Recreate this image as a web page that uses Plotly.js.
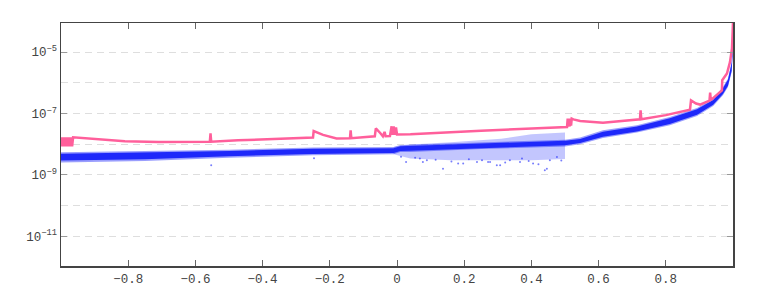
<!DOCTYPE html>
<html>
<head>
<meta charset="utf-8">
<script src="https://cdn.plot.ly/plotly-3.0.1.min.js"></script>
<style>
  html, body { margin: 0; padding: 0; background: #fff; }
  #chart { width: 763px; height: 300px; }
</style>
</head>
<body>
<div id="chart"></div>
<script>
// upper bound (pink line)
const pinkX = [-1.000, -0.997, -0.994, -0.991, -0.988, -0.985, -0.982, -0.979, -0.976, -0.973, -0.970, -0.967, -0.964,
  -0.93, -0.81, -0.71, -0.557, -0.555, -0.553, -0.473, -0.25, -0.248, -0.22, -0.18, -0.14, -0.138, -0.136,
  -0.066, -0.063, -0.05, -0.042, -0.037, -0.034, -0.021, -0.016, -0.013, -0.010, -0.006, -0.003, 0.0,
  0.04, 0.25, 0.506, 0.508, 0.510, 0.512, 0.514, 0.516, 0.518, 0.520, 0.525, 0.545, 0.613, 0.723, 0.725, 0.727,
  0.80, 0.872, 0.875, 0.89, 0.902, 0.930, 0.932, 0.934, 0.967, 0.968, 0.982, 0.991, 0.997, 1.0];
const pinkY = [1.66e-8, 8.5e-9, 1.66e-8, 8.5e-9, 1.66e-8, 8.5e-9, 1.66e-8, 8.5e-9, 1.66e-8, 8.5e-9, 1.66e-8, 8.5e-9, 1.66e-8,
  1.55e-8, 1.25e-8, 1.17e-8, 1.2e-8, 2.25e-8, 1.2e-8, 1.33e-8, 1.63e-8, 2.67e-8, 2.0e-8, 1.52e-8, 1.55e-8, 2.82e-8, 1.56e-8,
  1.79e-8, 3.27e-8, 2.3e-8, 1.8e-8, 2.5e-8, 1.82e-8, 1.84e-8, 3.8e-8, 2.0e-8, 3.8e-8, 2.0e-8, 3.5e-8, 2.05e-8,
  2.1e-8, 2.75e-8, 3.61e-8, 6.77e-8, 3.7e-8, 6.77e-8, 3.8e-8, 6.77e-8, 4.0e-8, 6.77e-8, 6.4e-8, 5.65e-8, 5.0e-8, 6.43e-8, 1.26e-7, 6.45e-8,
  8.8e-8, 1.33e-7, 2.67e-7, 2.1e-7, 1.94e-7, 2.6e-7, 4.76e-7, 2.7e-7, 5.65e-7, 1.2e-6, 2.0e-6, 4.7e-6, 1.3e-5, 9e-5];

// measured errors (blue band): outer edge and dense core
const bandX = [-1.0, -0.75, -0.5, -0.25, -0.01, 0.01, 0.04, 0.25, 0.5, 0.545, 0.613, 0.714, 0.812, 0.893, 0.941, 0.970, 0.985, 0.996, 1.0];
const bandHi = [5.4e-9, 5.96e-9, 6.6e-9, 7.7e-9, 8.05e-9, 9.4e-9, 9.63e-9, 1.12e-8, 1.4e-8, 1.63e-8, 2.82e-8, 4.09e-8, 7.63e-8, 1.5e-7, 3.03e-7, 7.24e-7, 1.36e-6, 4.72e-6, 3.5e-5];
const bandLo = [2.5e-9, 2.82e-9, 3.63e-9, 4.32e-9, 4.66e-9, 5.5e-9, 5.53e-9, 6.9e-9, 8.3e-9, 9.85e-9, 1.58e-8, 2.37e-8, 4.09e-8, 8.23e-8, 1.74e-7, 3.89e-7, 7.24e-7, 2.23e-6, 1.32e-5];
const coreHi = [4.9e-9, 5.4e-9, 6.0e-9, 7.0e-9, 7.3e-9, 8.6e-9, 8.8e-9, 1.03e-8, 1.28e-8, 1.48e-8, 2.55e-8, 3.75e-8, 6.9e-8, 1.36e-7, 2.75e-7, 6.6e-7, 1.24e-6, 4.4e-6, 3.2e-5];
const coreLo = [2.9e-9, 3.2e-9, 4.0e-9, 4.8e-9, 5.1e-9, 6.0e-9, 6.1e-9, 7.5e-9, 9.1e-9, 1.08e-8, 1.75e-8, 2.6e-8, 4.5e-8, 9.0e-8, 1.9e-7, 4.25e-7, 7.9e-7, 2.45e-6, 1.45e-5];

// scattered cloud between 0 and 0.5
const cloudX = [-0.01, 0.04, 0.16, 0.31, 0.40, 0.50];
const cloudHi = [8.05e-9, 9.63e-9, 1.15e-8, 1.5e-8, 2.1e-8, 2.4e-8];
const cloudLo = [4.66e-9, 3.4e-9, 3.0e-9, 2.9e-9, 3.0e-9, 3.3e-9];

// isolated points
const outX = [0.027, 0.054, 0.077, 0.137, 0.182, 0.238, 0.271, 0.307, 0.336, 0.372, 0.440, 0.476, 0.405, 0.455, 0.068, 0.277,
  -0.553, -0.247, 0.089, 0.197, 0.297, 0.366, 0.446, 0.253, 0.115, 0.162, 0.214, 0.322, 0.392, 0.421, 0.489, 0.012];
const outY = [2.61e-9, 3.63e-9, 2.61e-9, 1.59e-9, 2.32e-9, 2.61e-9, 2.61e-9, 2.04e-9, 2.97e-9, 3.37e-9, 1.40e-9, 3.8e-9, 2.32e-9, 2.97e-9, 3.37e-9, 2.61e-9,
  2.04e-9, 3.45e-9, 2.97e-9, 2.32e-9, 2.04e-9, 2.61e-9, 1.59e-9, 2.97e-9, 3.1e-9, 2.7e-9, 3.2e-9, 2.5e-9, 2.8e-9, 2.2e-9, 2.9e-9, 3.9e-9];

const blue = 'rgb(30,40,250)';
const pink = '#ff5f9b';

const yTickVals = [1e-11, 1e-9, 1e-7, 1e-5];
const yTickText = ['10<sup>−11</sup>', '10<sup>−9</sup>', '10<sup>−7</sup>', '10<sup>−5</sup>'];
const yMinorVals = [1e-10, 1e-8, 1e-6];
const xTickVals = [-0.8, -0.6, -0.4, -0.2, 0, 0.2, 0.4, 0.6, 0.8];

const traces = [
  { x: cloudX, y: cloudLo, type: 'scatter', mode: 'lines', line: { width: 0 }, hoverinfo: 'skip', showlegend: false },
  { x: cloudX, y: cloudHi, type: 'scatter', mode: 'lines', line: { width: 0 }, fill: 'tonexty',
    fillcolor: 'rgba(40,50,250,0.28)', hoverinfo: 'skip', showlegend: false },
  { x: outX, y: outY, type: 'scatter', mode: 'markers', marker: { size: 2, color: blue, opacity: 0.6 }, showlegend: false },
  { x: bandX, y: bandLo, type: 'scatter', mode: 'lines', line: { width: 0 }, showlegend: false },
  { x: bandX, y: bandHi, type: 'scatter', mode: 'lines', line: { width: 0 }, fill: 'tonexty',
    fillcolor: 'rgba(30,40,250,0.45)', showlegend: false },
  { x: bandX, y: coreLo, type: 'scatter', mode: 'lines', line: { width: 0 }, showlegend: false },
  { x: bandX, y: coreHi, type: 'scatter', mode: 'lines', line: { width: 0 }, fill: 'tonexty',
    fillcolor: blue, showlegend: false },
  { x: pinkX, y: pinkY, type: 'scatter', mode: 'lines', line: { width: 2.5, color: pink }, showlegend: false }
];

const tickFont = { family: 'Liberation Mono, DejaVu Sans Mono, monospace', size: 12.5, color: '#444' };

const layout = {
  width: 763,
  height: 300,
  margin: { l: 61, r: 30, t: 23, b: 34 },
  paper_bgcolor: '#fff',
  plot_bgcolor: '#fff',
  showlegend: false,
  xaxis: {
    range: [-1, 1],
    tickvals: xTickVals,
    ticks: 'inside',
    ticklen: 6,
    tickcolor: '#666',
    showline: true,
    linecolor: '#444',
    linewidth: 1.5,
    mirror: 'ticks',
    showgrid: false,
    zeroline: false,
    tickfont: tickFont
  },
  yaxis: {
    type: 'log',
    range: [-11.97, -4.055],
    tickvals: yTickVals,
    ticktext: yTickText,
    ticks: 'inside',
    ticklen: 6,
    tickcolor: '#999',
    showline: true,
    linecolor: '#444',
    linewidth: 1.5,
    mirror: 'ticks',
    showgrid: true,
    gridcolor: '#dedede',
    griddash: '7px,5px',
    zeroline: false,
    tickfont: tickFont,
    minor: {
      tickvals: yMinorVals,
      ticks: '',
      showgrid: true,
      gridcolor: '#dedede',
      griddash: '7px,5px'
    }
  }
};

Plotly.newPlot('chart', traces, layout, { staticPlot: true });
</script>
</body>
</html>
